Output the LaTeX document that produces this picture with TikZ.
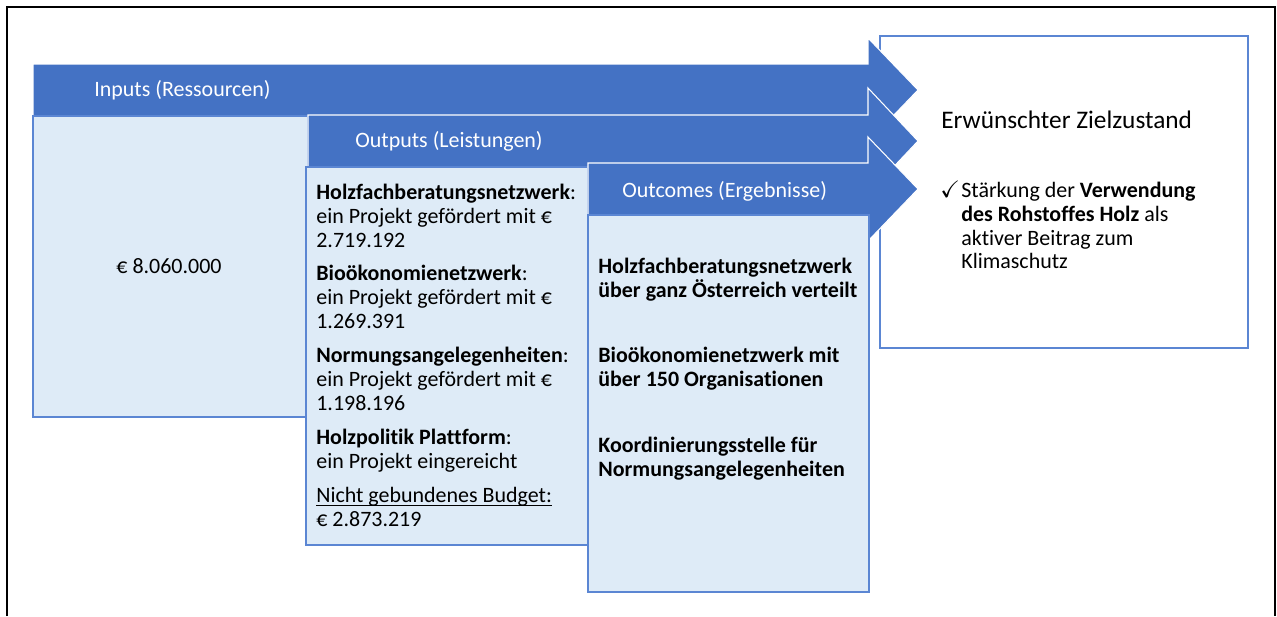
\documentclass[tikz,border=0pt]{standalone}
\usepackage{fontspec}
\setmainfont{Carlito}[Ligatures=NoCommon]
\usepackage{amssymb}
\usetikzlibrary{positioning}
\definecolor{barblue}{HTML}{4472C4}
\definecolor{boxfill}{HTML}{DEEBF7}
\definecolor{boxline}{HTML}{5B86D3}
\begin{document}
\begin{tikzpicture}[
    x=0.02cm, y=-0.02cm,
    every node/.style={font=\fontsize{12.5}{13.6}\selectfont, inner sep=0pt},
    band/.style={fill=barblue, draw=white, line width=0.6pt},
    stage/.style={fill=boxfill, draw=boxline, line width=0.8pt},
    head/.style={text=white, anchor=base west},
    item/.style={anchor=north west, align=left}
]
\useasboundingbox (0,0) rectangle (1277,616);
\draw[line width=1.2pt] (7,616) -- (7,7) -- (1275,7) -- (1275,616);

% goal
\draw[draw=boxline, line width=0.8pt, fill=white] (880,36) rectangle (1248,348);
\node[anchor=base west, font=\fontsize{14.4}{16}\selectfont] (goal) at (941,128) {Erwünschter Zielzustand};
\node[anchor=base west, font=\fontsize{13.5}{16}\selectfont] (tick) at (940,197) {$\checkmark$};
\node[item] (goaltext) at (961,181.5) {Stärkung der \textbf{Verwendung}\\
  \textbf{des Rohstoffes Holz} als\\ aktiver Beitrag zum\\ Klimaschutz};

% inputs
\draw[band] (33,64) -- (868,64) -- (868,38) -- (918,90) -- (868,142) -- (868,116) -- (33,116) -- cycle;
\node[head] (inhead) at (94,96) {Inputs (Ressourcen)};
\draw[stage] (33,116) rectangle (308,417);
\node (intext) at (169,266) {€ 8.060.000};

% outputs
\draw[band] (308,115) -- (868,115) -- (868,88) -- (918,141) -- (868,194) -- (868,167) -- (308,167) -- cycle;
\node[head] (outhead) at (355,147) {Outputs (Leistungen)};
\draw[stage] (306,167) rectangle (588,545);
\node[item] (outtext) at (316,183.5) {\textbf{Holzfachberatungsnetzwerk}:\\ ein Projekt gefördert mit €\\ 2.719.192\\[5.7pt]
  \textbf{Bioökonomienetzwerk}:\\ ein Projekt gefördert mit €\\ 1.269.391\\[5.7pt]
  \textbf{Normungsangelegenheiten}:\\ ein Projekt gefördert mit €\\ 1.198.196\\[5.7pt]
  \textbf{Holzpolitik Plattform}:\\ ein Projekt eingereicht\\[5.7pt]
  \underline{\smash{Nicht gebundenes Budget:}}\\ € 2.873.219};

% outcomes
\draw[band] (588,163) -- (868,163) -- (868,137) -- (918,189) -- (868,241) -- (868,215) -- (588,215) -- cycle;
\node[head] (ochead) at (622,197) {Outcomes (Ergebnisse)};
\draw[stage] (588,215) rectangle (869,592);
\node[item, font=\fontsize{12.5}{13.6}\selectfont\bfseries] (octext) at (598,257.5) {Holzfachberatungsnetzwerk\\ über ganz Österreich verteilt\\[23.8pt]
  Bioökonomienetzwerk mit\\ über 150 Organisationen\\[23.8pt]
  Koordinierungsstelle für\\ Normungsangelegenheiten};
\end{tikzpicture}
\end{document}
